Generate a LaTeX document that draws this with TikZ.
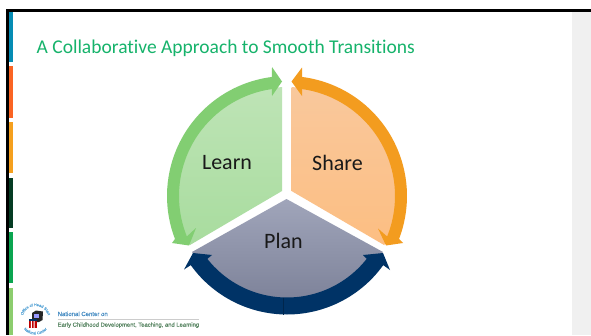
\documentclass[tikz,border=0pt]{standalone}
\usepackage{fontspec}
\setmainfont{Carlito}[Ligatures=CommonOff]
\newfontfamily\logofont{Liberation Sans}[FakeBold=0.6]
\usetikzlibrary{decorations.text}
\definecolor{titlegreen}{HTML}{16B36B}
\definecolor{arrowgreen}{HTML}{82CE72}
\definecolor{arroworange}{HTML}{F39C1F}
\definecolor{arrownavy}{HTML}{003366}
\definecolor{panelgrey}{HTML}{F0F0F0}
\definecolor{ringblue}{HTML}{5FA8D8}
\tikzset{
  x=1pt,y=-1pt,
  label text/.style={font=\fontsize{22}{26}\selectfont,text=black!90,inner sep=0pt},
  side bar/.style={line width=0pt},
  ring text/.style={decorate,decoration={text along path,text align=center,
     text={|\logofont\fontsize{3.8}{4}\selectfont\color{ringblue}|#1}}},
}
\begin{document}
\begin{tikzpicture}
\useasboundingbox (0,0) rectangle (591,335);
\fill[white] (0,0) rectangle (591,335);
% right panel
\fill[panelgrey] (572,12) rectangle (591,335);
% frame
\fill[black!15] (6,8.5) rectangle (591,9.5);
\fill[black] (6,9.3) rectangle (591,11.7);
\fill[black] (6,9.3) rectangle (8.5,335);
% colour bars
\fill[side bar,fill={rgb,255:red,5;green,140;blue,180}] (8.5,11.7) rectangle (12.7,62);
\fill[side bar,fill={rgb,255:red,250;green,100;blue,35}] (8.5,66) rectangle (12.7,118);
\fill[side bar,fill={rgb,255:red,245;green,160;blue,30}] (8.5,122) rectangle (12.7,173);
\fill[side bar,fill={rgb,255:red,5;green,60;blue,35}] (8.5,178) rectangle (12.7,228);
\fill[side bar,fill={rgb,255:red,10;green,165;blue,80}] (8.5,232) rectangle (12.7,283);
\fill[side bar,fill={rgb,255:red,140;green,205;blue,110}] (8.5,288) rectangle (12.7,335);
% title
\node[anchor=base west,inner sep=0pt,text=titlegreen,font=\fontsize{19.5}{23}\selectfont] (title) at (36.5,53) {A Collaborative Approach to Smooth Transitions};
% wedges
\shade[top color={rgb,255:red,190;green,228;blue,182},bottom color={rgb,255:red,168;green,220;blue,158}]
  (282,191) -- ([shift={(287,196)}]267.4:109) arc[start angle=267.4,end angle=153.2,radius=109] -- cycle;
\shade[top color={rgb,255:red,249;green,200;blue,156},bottom color={rgb,255:red,252;green,190;blue,130}]
  (291.5,191) -- ([shift={(287,196)}]272.4:109) arc[start angle=272.4,end angle=386.8,radius=109] -- cycle;
\shade[top color={rgb,255:red,160;green,165;blue,186},bottom color={rgb,255:red,126;green,131;blue,154}]
  (286.5,199) -- (383,252) .. controls (358,285) and (322,299) .. (286.5,299) .. controls (251,299) and (216,285) .. (192,252) -- cycle;
% arrows
\fill[arrowgreen]
  (282,81.5) -- (272,67) -- ([shift={(287,196)}]262.8:120) arc[start angle=262.8,end angle=159,radius=120]
  -- (172,243) -- (189,245.5) -- (196,228) -- ([shift={(287,196)}]158:108) arc[start angle=158,end angle=262,radius=108] -- (272,96) -- cycle;
\fill[arroworange]
  (291.5,81.5) -- (302,67.5) -- ([shift={(287,196)}]277.2:120) arc[start angle=277.2,end angle=381,radius=120]
  -- (403,243) -- (386,245.5) -- (378,228.5) -- ([shift={(287,196)}]22:108) arc[start angle=22,end angle=-82,radius=108] -- (302,96) -- cycle;
\fill[arrownavy]
  (193,253) -- (184,269.5) -- ([shift={(287,196)}]144.3:118.5) arc[start angle=144.3,end angle=35.7,radius=118.5]
  -- (390,270) -- (383,253) -- (363,255) -- ([shift={(287,196)}]38.3:101.5) arc[start angle=38.3,end angle=141.7,radius=101.5] -- (212,255) -- cycle;
\draw[arrownavy!75!black,line width=0.4pt] (283,297.5) -- (283,314.5);
% labels
\node[label text] (learn) at (227,163) {Learn};
\node[label text] (share) at (337.5,163) {Share};
\node[label text] (plan) at (283.5,241) {Plan};
% logo ring text
\path[ring text={Office of Head Start}]
   ([shift={(35.5,319)}]150:13) arc[start angle=150,end angle=390,radius=13];
\path[ring text={National Center}]
   ([shift={(35.5,319)}]160:15.5) arc[start angle=160,end angle=20,radius=15.5];
% logo blocks
\fill[black!85] (32,313) -- (36,310.5) -- (43,311.5) -- (42.5,320) -- (39,322) -- (32,322) -- cycle;
\fill[white!60!blue] (34,314) rectangle (38.5,318);
\fill[red!75!black] (29,319) rectangle (37,328);
\fill[white] (30.8,320) rectangle (31.8,328) (33.6,320) rectangle (34.6,328);
\fill[arrownavy] (29,319) rectangle (37,320.5);
% logo text
\node[anchor=base west,inner sep=0pt,font=\logofont\fontsize{6}{6}\selectfont,text={rgb,255:red,70;green,140;blue,195}] (centre) at (57.5,316) {National Center on};
\draw[black!20,line width=0.3pt] (57.5,319.5) -- (199,319.5);
\node[anchor=base west,inner sep=0pt,font=\logofont\fontsize{5.85}{6}\selectfont,text={rgb,255:red,90;green,135;blue,100}] (ecd) at (57.5,326.7) {Early Childhood Development, Teaching, and Learning};
\end{tikzpicture}
\end{document}
